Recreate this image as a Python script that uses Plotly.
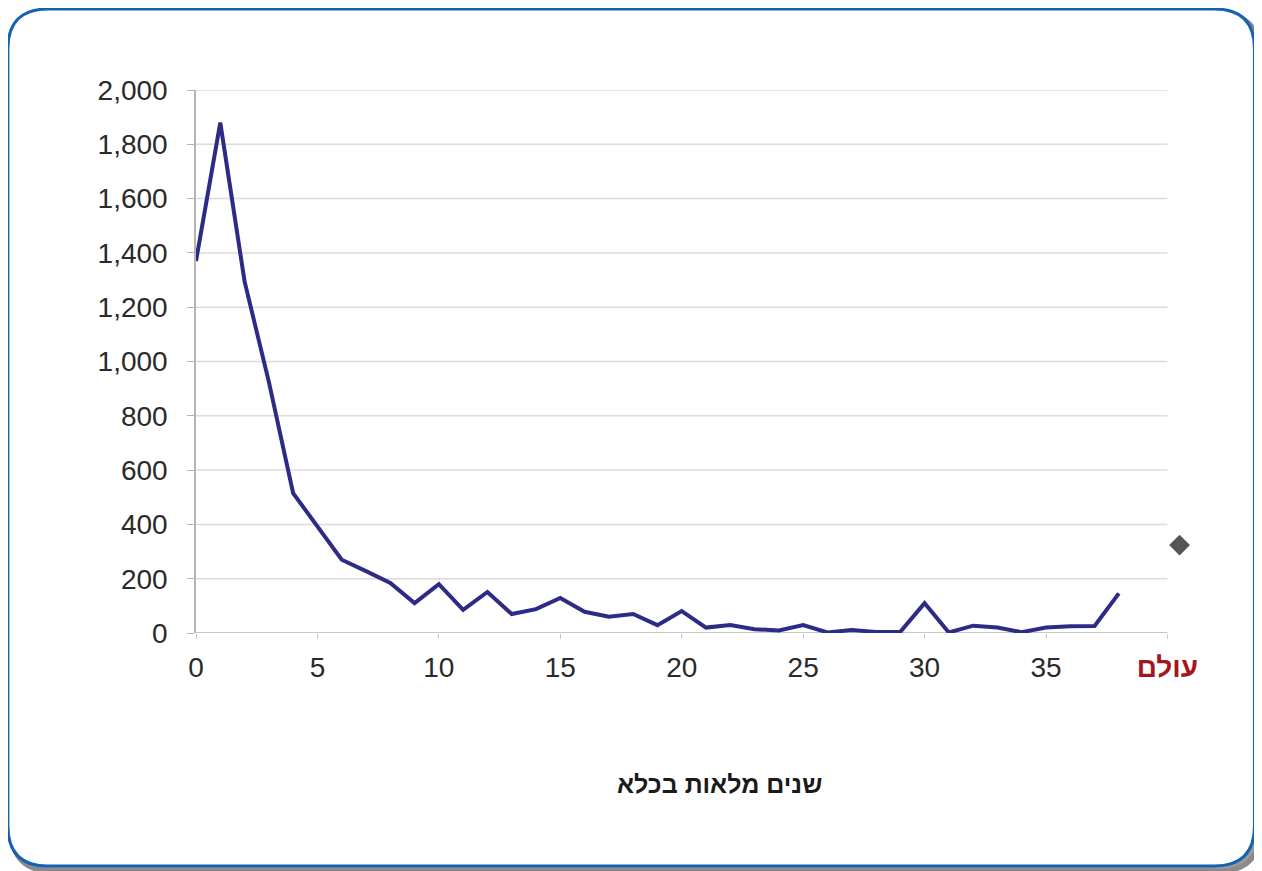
import plotly.graph_objects as go

# ---- data ----
years = list(range(0, 39))
counts = [1370, 1880, 1295, 925, 515, 390, 270, 228, 184, 110,
          180, 85, 151, 70, 88, 129, 78, 60, 70, 29,
          81, 20, 29, 14, 9, 29, 2, 11, 4, 4,
          110, 2, 27, 20, 3, 20, 25, 26, 146]
ever_label = "עולם"
ever_value = 324
ever_pos = 40.5
x_tick_vals = [0, 5, 10, 15, 20, 25, 30, 35, 40]
x_tick_text = ["0", "5", "10", "15", "20", "25", "30", "35",
               "<b><span style='color:#a3151f'>" + ever_label + "</span></b>"]
y_ticks = list(range(0, 2001, 200))
x_title = "שנים מלאות בכלא"
x_axis_end = 40

# page offset of the figure inside the browser (body margin)
OFF = 8
W, H = 1262 - OFF, 871 - OFF
L, T, B = 196 - OFF, 90 - OFF, 633 - OFF
UNIT = (1167 - 196) / 40.0
X_MAX = 42
R = L + X_MAX * UNIT


def px(x):
    return (x - OFF - L) / (R - L)


def py(y):
    return (B - (y - OFF)) / (B - T)


def rounded_path(x0, y0, x1, y1, r):
    pts = [
        ("M", px(x0 + r), py(y0)),
        ("L", px(x1 - r), py(y0)),
        ("Q", px(x1), py(y0), px(x1), py(y0 + r)),
        ("L", px(x1), py(y1 - r)),
        ("Q", px(x1), py(y1), px(x1 - r), py(y1)),
        ("L", px(x0 + r), py(y1)),
        ("Q", px(x0), py(y1), px(x0), py(y1 - r)),
        ("L", px(x0), py(y0 + r)),
        ("Q", px(x0), py(y0), px(x0 + r), py(y0)),
    ]
    s = ""
    for p in pts:
        s += p[0] + " " + " ".join(f"{v:.5f}" for v in p[1:]) + " "
    return s + "Z"


fig = go.Figure()
fig.add_trace(go.Scatter(
    x=years, y=counts, mode="lines",
    line=dict(color="#2d2b86", width=4),
    hoverinfo="x+y", showlegend=False,
))
fig.add_trace(go.Scatter(
    x=[ever_pos], y=[ever_value], mode="markers",
    marker=dict(symbol="diamond", size=16, color="#555555"),
    showlegend=False,
))

shapes = [
    dict(type="path", xref="paper", yref="paper", layer="below",
         path=rounded_path(12, 14, 1259, 871, 40),
         line=dict(color="#8a8a8a", width=5), fillcolor="#9a9a9a"),
    dict(type="path", xref="paper", yref="paper", layer="below",
         path=rounded_path(8, 9, 1254, 866, 40),
         line=dict(color="#1463b3", width=3), fillcolor="white"),
]
# horizontal gridlines and x-axis line drawn only up to the last category
for v in y_ticks:
    shapes.append(dict(type="line", xref="x", yref="y", layer="below",
                       x0=0, x1=x_axis_end, y0=v, y1=v,
                       line=dict(color="#b5b5b5" if v == 0 else "#dcdcdc", width=1.5)))

fig.update_layout(
    width=W, height=H,
    margin=dict(l=L, r=W - R, t=T, b=H - B),
    paper_bgcolor="white", plot_bgcolor="rgba(0,0,0,0)",
    font=dict(family="Liberation Sans, Arial, DejaVu Sans", size=28, color="#2a2a2a"),
    shapes=shapes,
    xaxis=dict(
        range=[0, X_MAX], tickmode="array", tickvals=x_tick_vals, ticktext=x_tick_text,
        showgrid=False, zeroline=False, showline=False,
        ticks="outside", ticklen=5, tickcolor="#c8c8c8",
        ticklabelstandoff=4,
        tickfont=dict(size=28, color="#2a2a2a"),
    ),
    yaxis=dict(
        range=[0, 2000], tickmode="array", tickvals=y_ticks, tickformat=",",
        showgrid=False, zeroline=False,
        showline=True, linecolor="#b5b5b5", linewidth=1.5,
        ticks="outside", ticklen=7, tickcolor="#b5b5b5",
        ticklabelstandoff=14,
        tickfont=dict(size=28, color="#2a2a2a"),
    ),
    annotations=[dict(
        text="<b>" + x_title + "</b>", xref="paper", yref="paper",
        x=px(719), y=py(784), xanchor="center", yanchor="middle", showarrow=False,
        font=dict(size=25, color="#1a1a1a"),
    )],
)

fig.write_html("out.html")
